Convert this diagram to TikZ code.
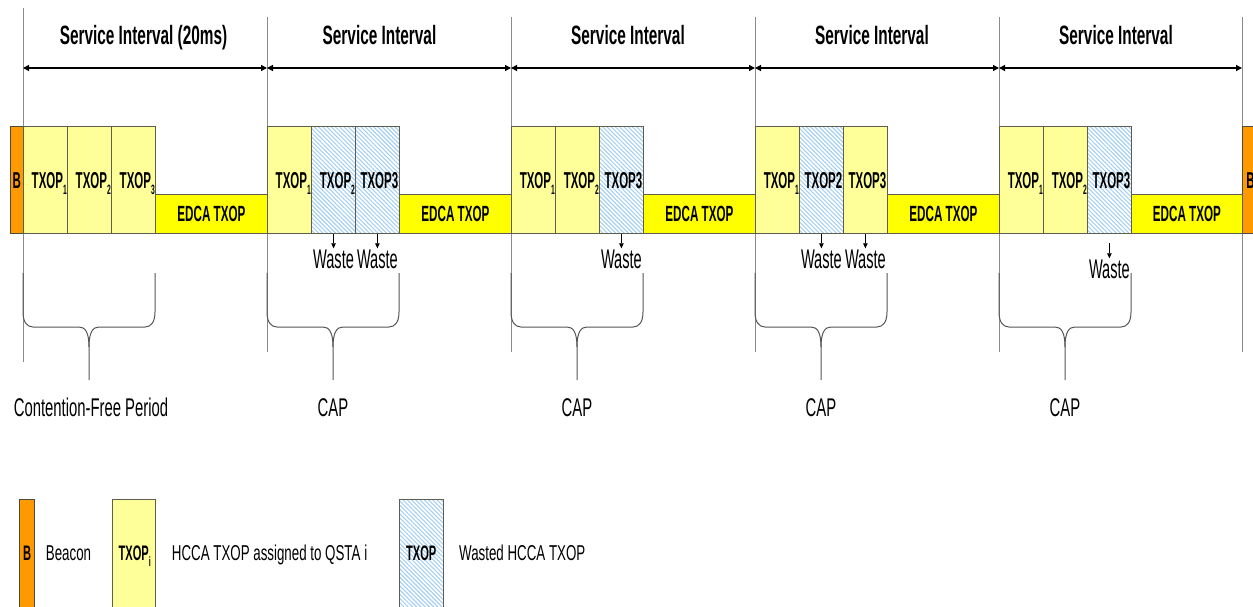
\documentclass[tikz,border=0pt]{standalone}
\usepackage{fontspec}
\usetikzlibrary{arrows.meta,patterns.meta}
\setmainfont{Liberation Sans}
\newfontfamily\fTitle[FakeStretch=0.58]{Liberation Sans}
\newfontfamily\fBox[FakeStretch=0.5]{Liberation Sans}
\newfontfamily\fEdca[FakeStretch=0.53]{Liberation Sans}
\newfontfamily\fText[FakeStretch=0.58]{Liberation Sans}
\newfontfamily\fWaste[FakeStretch=0.54]{Liberation Sans}
\newfontfamily\fLeg[FakeStretch=0.62]{Liberation Sans}

\definecolor{beaconfill}{HTML}{FF9900}
\definecolor{hccafill}{HTML}{FFFF99}
\definecolor{edcafill}{HTML}{FFFF00}
\definecolor{hatchblue}{HTML}{A6D0F2}
\definecolor{boxedge}{HTML}{5E5E50}
\definecolor{rulegray}{HTML}{8A8A8A}
\definecolor{bracegray}{HTML}{555555}

% lowered index after a TXOP label (takes no width, so the name itself is centred)
\newcommand\subidx[1]{\rlap{\raisebox{-6pt}{\fontsize{13.5}{13.5}\selectfont #1}}}

% curly brace under the HCCA part of an interval: #1 left x, #2 right x
\newcommand\capbrace[2]{%
  \pgfmathsetmacro\bm{(#1+#2)/2}%
  \draw[bracestyle] (#1,273) -- (#1,312) .. controls (#1,322) and (#1+4,327) .. (#1+10,327)
    -- (\bm-10,327) .. controls (\bm-4,327) and (\bm,332) .. (\bm,347) -- (\bm,380);
  \draw[bracestyle] (\bm,347) .. controls (\bm,332) and (\bm+4,327) .. (\bm+10,327)
    -- (#2-10,327) .. controls (#2-4,327) and (#2,322) .. (#2,312) -- (#2,273);
}

\tikzset{
  box/.style={draw=boxedge, line width=0.8pt, anchor=north west, inner sep=0pt,
    text height=16.5pt, text depth=0pt, font=\fBox\bfseries\fontsize{23}{23}\selectfont},
  slot/.style={box, minimum width=44pt, minimum height=107pt,
    execute at begin node=\hspace*{4pt}},
  hcca/.style={slot, fill=hccafill},
  hatched/.style={pattern={Lines[angle=-45,distance=3pt,line width=1.1pt]}, pattern color=hatchblue},
  wasted/.style={slot, hatched},
  edca/.style={box, fill=edcafill, minimum width=112pt, minimum height=39pt,
    text height=15.5pt, font=\fEdca\bfseries\fontsize{22}{22}\selectfont},
  beacon/.style={box, draw=boxedge!80!black, fill=beaconfill, minimum width=13pt, minimum height=107pt},
  title/.style={anchor=base, inner sep=0pt, font=\fTitle\bfseries\fontsize{26.5}{26.5}\selectfont},
  dim/.style={line width=1.2pt, {Triangle[length=6pt,width=6pt]}-{Triangle[length=6pt,width=6pt]}},
  rulestyle/.style={draw=rulegray, line width=0.9pt},
  bracestyle/.style={draw=bracegray, line width=1pt},
  wastetext/.style={anchor=base, inner sep=0pt, text height=19.5pt, text depth=0pt,
    font=\fWaste\fontsize{27}{27}\selectfont},
  wastearrow/.style={line width=0.7pt, -{Triangle[length=5pt,width=4.5pt]}},
  period/.style={anchor=base, inner sep=0pt, font=\fText\fontsize{25.6}{25.6}\selectfont},
  legbox/.style={box, minimum height=108pt, text height=15pt,
    font=\fEdca\bfseries\fontsize{21}{21}\selectfont},
  legtext/.style={anchor=base west, inner sep=0pt, font=\fLeg\fontsize{21.5}{21.5}\selectfont}
}

\begin{document}
\begin{tikzpicture}[x=1pt,y=-1pt]
\useasboundingbox (0,0) rectangle (1253,606);
\fill[white] (0,0) rectangle (1253,606);

% interval boundaries
\coordinate (r0t) at (23,8);   \coordinate (r0b) at (23,362);
\coordinate (r1t) at (267,17); \coordinate (r1b) at (267,352);
\coordinate (r2t) at (511,17); \coordinate (r2b) at (511,352);
\coordinate (r3t) at (755,17); \coordinate (r3b) at (755,352);
\coordinate (r4t) at (999,17); \coordinate (r4b) at (999,352);
\coordinate (r5t) at (1242,17); \coordinate (r5b) at (1242,352);
\foreach \k in {0,...,5} \draw[rulestyle] (r\k t) -- (r\k b);

% service interval dimension lines
\coordinate (d0) at (23,68);
\coordinate (d1) at (267,68);
\coordinate (d2) at (511,68);
\coordinate (d3) at (755,68);
\coordinate (d4) at (999,68);
\coordinate (d5) at (1242,68);
\draw[dim] (d0) -- (d1);
\draw[dim] (d1) -- (d2);
\draw[dim] (d2) -- (d3);
\draw[dim] (d3) -- (d4);
\draw[dim] (d4) -- (d5);

\node[title] (s1) at (143.5,44) {Service Interval (20ms)};
\node[title] (s2) at (379.5,44) {Service Interval};
\node[title] (s3) at (628,44) {Service Interval};
\node[title] (s4) at (872,44) {Service Interval};
\node[title] (s5) at (1116,44) {Service Interval};

% beacons
\node[beacon] (b0) at (10,126) {B};
\node[beacon, minimum width=16pt] (b1) at (1242,126) {B};

% interval 1
\node[edca] (i1e) at (155,194) {EDCA TXOP};
\node[hcca] (i1a) at (23,126) {TXOP\subidx{1}};
\node[hcca] (i1b) at (67,126) {TXOP\subidx{2}};
\node[hcca] (i1c) at (111,126) {TXOP\subidx{3}};

% interval 2
\node[edca] (i2e) at (399,194) {EDCA TXOP};
\node[hcca] (i2a) at (267,126) {TXOP\subidx{1}};
\node[wasted] (i2b) at (311,126) {TXOP\subidx{2}};
\node[wasted] (i2c) at (355,126) {TXOP3};

% interval 3
\node[edca] (i3e) at (643,194) {EDCA TXOP};
\node[hcca] (i3a) at (511,126) {TXOP\subidx{1}};
\node[hcca] (i3b) at (555,126) {TXOP\subidx{2}};
\node[wasted] (i3c) at (599,126) {TXOP3};

% interval 4
\node[edca] (i4e) at (887,194) {EDCA TXOP};
\node[hcca] (i4a) at (755,126) {TXOP\subidx{1}};
\node[wasted] (i4b) at (799,126) {TXOP2};
\node[hcca] (i4c) at (843,126) {TXOP3};

% interval 5
\node[edca, minimum width=111pt] (i5e) at (1131,194) {EDCA TXOP};
\node[hcca] (i5a) at (999,126) {TXOP\subidx{1}};
\node[hcca] (i5b) at (1043,126) {TXOP\subidx{2}};
\node[wasted] (i5c) at (1087,126) {TXOP3};

% wasted allocations
\node[wastetext] (w2a) at (i2b.south |- 0,268) {Waste};
\node[wastetext] (w2b) at (i2c.south |- 0,268) {Waste};
\node[wastetext] (w3)  at (i3c.south |- 0,268) {Waste};
\node[wastetext] (w4a) at (i4b.south |- 0,268) {Waste};
\node[wastetext] (w4b) at (i4c.south |- 0,268) {Waste};
\node[wastetext] (w5)  at (i5c.south |- 0,278) {Waste};
\coordinate (w5s) at (i5c.south |- 0,243);
\draw[wastearrow] (i2b.south) -- (w2a.north);
\draw[wastearrow] (i2c.south) -- (w2b.north);
\draw[wastearrow] (i3c.south) -- (w3.north);
\draw[wastearrow] (i4b.south) -- (w4a.north);
\draw[wastearrow] (i4c.south) -- (w4b.north);
\draw[wastearrow] (w5s) -- (w5.north);

% periods
\capbrace{23}{155}
\capbrace{267}{399}
\capbrace{511}{643}
\capbrace{755}{887}
\capbrace{999}{1131}
\node[period] (p1) at (91,416.7) {Contention-Free Period};
\node[period] (p2) at (333,416.7) {CAP};
\node[period] (p3) at (577,416.7) {CAP};
\node[period] (p4) at (821,416.7) {CAP};
\node[period] (p5) at (1065,416.7) {CAP};

% legend
\node[legbox, draw=boxedge!80!black, fill=beaconfill, minimum width=15pt] (lb) at (19.3,499) {B};
\node[legtext] (lbt) at (45.7,560) {Beacon};
\node[legbox, fill=hccafill, minimum width=43.3pt] (lh) at (111.7,499) {TXOP\subidx{i}};
\node[legtext] (lht) at (171.7,560) {HCCA TXOP assigned to QSTA i};
\node[legbox, hatched, minimum width=43.7pt] (lw) at (399,499) {TXOP};
\node[legtext] (lwt) at (459,560) {Wasted HCCA TXOP};
\end{tikzpicture}
\end{document}
